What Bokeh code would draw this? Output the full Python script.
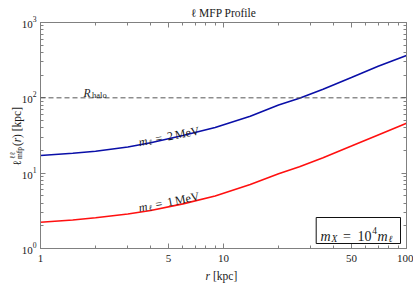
import math
from bokeh.plotting import figure
from bokeh.models import (Range1d, FixedTicker, LogAxis, Span, Label, BoxAnnotation,
                          BasicTickFormatter, LogTickFormatter, CustomJSTickFormatter)
from bokeh.embed import file_html
from bokeh.resources import INLINE

# ---------------- data ----------------
r_kpc = [1, 1.5, 2, 3, 4, 6, 9, 14, 20, 26, 35, 50, 70, 100]
mfp_2mev = [17.2, 18.4, 19.5, 22.3, 25.3, 31.6, 40.5, 57.1, 80.5, 98.5, 130, 186, 262, 366]
mfp_1mev = [2.23, 2.39, 2.56, 2.87, 3.2, 3.91, 4.98, 7.08, 9.82, 12.2, 16.0, 22.9, 32.2, 46.1]
R_halo = 100
x_major = [1, 5, 10, 50, 100]
x_minor = [2, 3, 4, 6, 7, 8, 9, 20, 30, 40, 60, 70, 80, 90]
y_major = [1, 10, 100, 1000]
y_minor = [2, 3, 4, 5, 6, 7, 8, 9, 20, 30, 40, 50, 60, 70, 80, 90,
           200, 300, 400, 500, 600, 700, 800, 900]

SERIF = "Liberation Serif"
GRAY = "#808080"
TXT = "#1a1a1a"

# the outer texts live in a wide left panel; the page is shifted left by SHIFT
SHIFT = 150
W, H = 413 + SHIFT, 285
p = figure(width=W, height=H, x_axis_type="log", y_axis_type="log",
           x_range=Range1d(1, 100), y_range=Range1d(1, 1000),
           output_backend="svg", toolbar_location=None)
p.margin = (0, 0, 0, -SHIFT)
p.min_border_left = 40 + SHIFT
p.min_border_right = 7
p.min_border_top = 22
p.min_border_bottom = 37
p.background_fill_color = "white"
p.border_fill_color = "white"
p.outline_line_color = GRAY
p.outline_line_width = 1
p.grid.visible = False

xt = FixedTicker(ticks=x_major, minor_ticks=x_minor)
yt = FixedTicker(ticks=y_major, minor_ticks=y_minor)


def style_axis(ax, show_labels):
    ax.axis_line_color = GRAY
    ax.major_tick_line_color = GRAY
    ax.minor_tick_line_color = GRAY
    ax.major_tick_in = 5
    ax.major_tick_out = 0
    ax.minor_tick_in = 3
    ax.minor_tick_out = 0
    ax.major_label_text_font = SERIF
    ax.major_label_text_color = TXT
    if show_labels:
        ax.major_label_text_font_size = "11px"
    else:
        ax.formatter = CustomJSTickFormatter(code="return ''")
        ax.major_label_text_font_size = "3px"
        ax.major_label_standoff = 0


xa = p.xaxis[0]
xa.ticker = xt
xa.formatter = BasicTickFormatter()
style_axis(xa, True)
xa.major_label_standoff = 6

ya = p.yaxis[0]
ya.ticker = yt
ya.formatter = LogTickFormatter()
style_axis(ya, True)
ya.major_label_standoff = 4

top_ax = LogAxis(ticker=xt)
style_axis(top_ax, False)
p.add_layout(top_ax, "above")
right_ax = LogAxis(ticker=yt)
style_axis(right_ax, False)
p.add_layout(right_ax, "right")

# ---------------- marks ----------------
p.add_layout(Span(location=R_halo, dimension="width", line_color="#555555",
                  line_dash="5 3", line_width=1))
p.line(r_kpc, mfp_2mev, line_color="#0a0fa8", line_width=1.6)
p.line(r_kpc, mfp_1mev, line_color="#ff1010", line_width=1.6)

# ---------------- page px -> data coords ----------------
FL, FB = 40, 248   # page coords of frame left / bottom
FW, FH = 366, 226  # frame size in px


def dx(px):
    return 10 ** ((px - FL) / FW * 2)


def dy(py):
    return 10 ** ((FB - py) / FH * 3)


# boxed annotation (drawn before its text)
p.add_layout(BoxAnnotation(left=dx(315.7), right=dx(400), bottom=dy(243), top=dy(217),
                           fill_color="white", fill_alpha=1, line_color="#111111",
                           line_alpha=1, line_width=1, level="annotation"))


def put(px, py, text, size, style="normal", angle=0, align="left", side="center"):
    lab = Label(x=dx(px), y=dy(py), text=text, text_font=SERIF,
                text_font_size=f"{size}px", text_font_style=style,
                angle=angle, angle_units="deg", text_align=align,
                text_baseline="alphabetic", text_color=TXT)
    p.add_layout(lab, side)


# title
put(223, 12.5, "ℓ MFP Profile", 11.5, align="center", side="left")

# x-axis label
put(205, 275, "r", 11.5, "italic", side="left")
put(212.5, 275, "[kpc]", 11.5, side="left")

# y-axis label (rotated)
put(16, 165.5, "ℓ", 11.5, angle=90, side="left")
put(11.5, 158.5, "ℓℓ", 7.5, angle=90, side="left")
put(18.5, 158.5, "mfp", 7.5, angle=90, side="left")
put(16, 145.5, "(", 11.5, angle=90, side="left")
put(16, 141.8, "r", 11.5, "italic", angle=90, side="left")
put(16, 137.5, ") [kpc]", 11.5, angle=90, side="left")

# R_halo
put(83, 92, "R", 11.5, "italic")
put(91.5, 94.5, "halo", 8.5)

# curve labels
ANG = 11
t = math.tan(math.radians(ANG))


def curve_label(x0, y0, num):
    pieces = [(0, "m", 12, "italic", 0), (10, "ℓ", 8, "italic", 2.5),
              (16.7, "=", 12, "normal", 0), (28.4, num, 12, "normal", 0),
              (36.3, "MeV", 12, "normal", 0)]
    for ddx, txt, size, style, drop in pieces:
        put(x0 + ddx, y0 - ddx * t + drop, txt, size, style, angle=ANG)


curve_label(138.3, 141.7, "2")
curve_label(138.3, 207.3, "1")

put(320, 235.5, "m", 14, "italic")
put(331, 238.5, "X", 9.5, "italic")
put(342.5, 235.5, "=", 14)
put(357, 235.5, "10", 14)
put(371.7, 229.5, "4", 9.5)
put(377, 235.5, "m", 14, "italic")
put(388, 238.5, "ℓ", 9.5, "italic")

open("out.html", "w").write(file_html(p, INLINE))
